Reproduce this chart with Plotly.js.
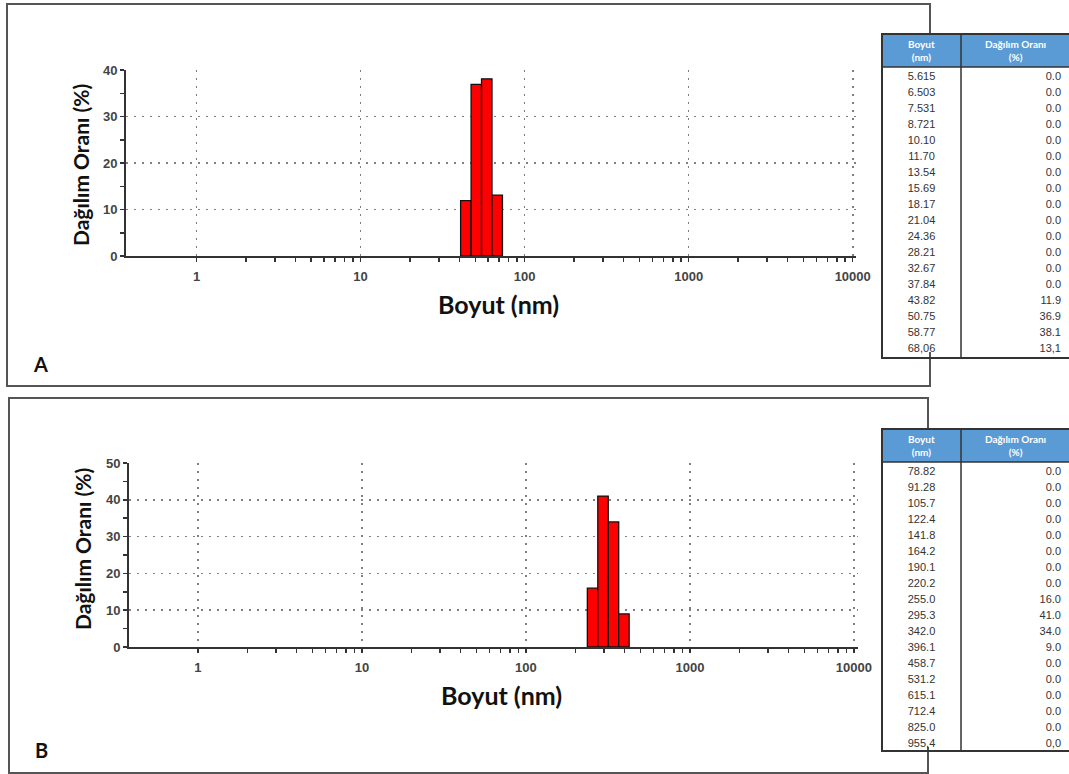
<!DOCTYPE html>
<html>
<head>
<meta charset="utf-8">
<script src="https://cdn.plot.ly/plotly-3.0.1.min.js"></script>
<style>html,body{margin:0;padding:0;background:#fff;}#chart{width:1069px;height:774px;}</style>
</head>
<body>
<div id="chart"></div>
<script>
// ---- data ----
const sizesA = [5.615, 6.503, 7.531, 8.721, 10.10, 11.70, 13.54, 15.69, 18.17, 21.04, 24.36, 28.21, 32.67, 37.84, 43.82, 50.75, 58.77, 68.06];
const valuesA = [0.0, 0.0, 0.0, 0.0, 0.0, 0.0, 0.0, 0.0, 0.0, 0.0, 0.0, 0.0, 0.0, 0.0, 11.9, 36.9, 38.1, 13.1];
const sizesB = [78.82, 91.28, 105.7, 122.4, 141.8, 164.2, 190.1, 220.2, 255.0, 295.3, 342.0, 396.1, 458.7, 531.2, 615.1, 712.4, 825.0, 955.4];
const valuesB = [0.0, 0.0, 0.0, 0.0, 0.0, 0.0, 0.0, 0.0, 16.0, 41.0, 34.0, 9.0, 0.0, 0.0, 0.0, 0.0, 0.0, 0.0];
const xTickVals = [1, 10, 100, 1000, 10000];
const xTickText = ['1', '10', '100', '1000', '10000'];
const tableHeaders = ['Boyut<br>(nm)', 'Dağılım Oranı<br>(%)'];
const xTitle = 'Boyut (nm)';
const yTitle = 'Dağılım Oranı (%)';
const panelLabels = ['A', 'B'];

// ---- helpers ----
const W = 1069, H = 774;
const px = x => x / W;
const py = y => 1 - y / H;

// bin edges: geometric midpoints between neighbouring sizes (log-spaced bins)
function binGeom(sizes) {
  const n = sizes.length;
  const lo = [], hi = [];
  for (let i = 0; i < n; i++) {
    const prev = i > 0 ? sizes[i - 1] : sizes[i] * sizes[i] / sizes[i + 1];
    const next = i < n - 1 ? sizes[i + 1] : sizes[i] * sizes[i] / sizes[i - 1];
    lo.push(Math.sqrt(prev * sizes[i]));
    hi.push(Math.sqrt(sizes[i] * next));
  }
  return {offset: sizes.map((s, i) => lo[i] - s), width: sizes.map((s, i) => hi[i] - lo[i])};
}
const fmtSize = v => v.toPrecision(4).replace('.', ',');
const fmtVal = v => v.toFixed(1).replace('.', ',');

const minorVals = [];
for (let d = 1; d <= 1000; d *= 10) for (let k = 2; k <= 9; k++) minorVals.push(k * d);

function barTrace(sizes, values, xa, ya) {
  const g = binGeom(sizes);
  return {type: 'bar', x: sizes, y: values, offset: g.offset, width: g.width, xaxis: xa, yaxis: ya,
    marker: {color: '#ff0000', line: {color: '#111', width: values.map(v => v > 0 ? 1.3 : 0)}}, hoverinfo: 'x+y'};
}
function tableTrace(sizes, values, yTop, yBot) {
  return {type: 'table', domain: {x: [px(882), 1], y: [py(yBot), py(yTop)]}, columnwidth: [79, 108],
    header: {values: [], height: 1, fill: {color: '#ffffff'}, line: {width: 0, color: '#ffffff'}},
    cells: {values: [sizes.map(fmtSize), values.map(fmtVal)], align: ['center', 'right'], height: 16,
      fill: {color: '#ffffff'}, font: {family: 'Liberation Sans, Arial, sans-serif', size: 11, color: '#333333'},
      line: {color: '#ffffff', width: 0}}};
}

const traces = [
  barTrace(sizesA, valuesA, 'x', 'y'),
  barTrace(sizesB, valuesB, 'x2', 'y2'),
  tableTrace(sizesA, valuesA, 48, 362),
  tableTrace(sizesB, valuesB, 443, 757)
];

const tickFont = {family: 'Liberation Sans, Arial, sans-serif', size: 13, color: '#444', weight: 'bold'};
const tickStyle = {ticklen: 4, tickwidth: 1.5, tickcolor: '#333'};
function xAxis(domain, range, anchor, inner, overlay) {
  const ax = Object.assign({type: 'log', domain: domain, range: range, anchor: anchor,
    tickvals: xTickVals, ticktext: xTickText, tickfont: tickFont, ticks: inner ? 'inside' : 'outside', ticklabelstandoff: 3,
    minor: Object.assign({tickvals: minorVals, ticks: inner ? 'inside' : 'outside', showgrid: false}, tickStyle),
    showline: !inner, linecolor: '#333', linewidth: 2,
    showgrid: !inner, gridcolor: '#808080', griddash: '2px,6px', gridwidth: 1.6,
    showticklabels: !inner, zeroline: false, fixedrange: true}, tickStyle);
  if (overlay) ax.overlaying = overlay;
  return ax;
}
function yAxis(domain, max, anchor, inner, overlay) {
  const ax = Object.assign({domain: domain, range: [0, max], anchor: anchor, dtick: 10, tickfont: tickFont,
    ticks: inner ? 'inside' : 'outside',
    minor: Object.assign({dtick: 5, ticks: inner ? 'inside' : 'outside', showgrid: false}, tickStyle),
    showline: !inner, linecolor: '#333', linewidth: 2,
    showgrid: !inner, gridcolor: '#808080', griddash: '2px,6px', gridwidth: 1.6,
    showticklabels: !inner, zeroline: false, fixedrange: true}, tickStyle);
  if (overlay) ax.overlaying = overlay;
  return ax;
}

const xTitleFont = {family: 'Lato, Open Sans, sans-serif', size: 25, color: '#111', weight: 'bold'};
const yTitleFont = {family: 'Lato, Open Sans, sans-serif', size: 21, color: '#111', weight: 'bold'};
const labelFont = {family: 'Lato, Open Sans, sans-serif', size: 20, color: '#111', weight: 'bold'};
const headFont = {family: 'Lato, Liberation Sans, sans-serif', size: 10, color: '#ffffff', weight: 'bold'};

const ann = (text, x, y, font, angle) => ({text: text, x: px(x), y: py(y), xref: 'paper', yref: 'paper', showarrow: false,
  font: font, textangle: angle || 0, xanchor: 'center', yanchor: 'middle'});
const annotations = [
  ann(xTitle, 498, 304, xTitleFont),
  ann(yTitle, 81, 165, yTitleFont, -90),
  ann(panelLabels[0], 40, 364, labelFont),
  ann(xTitle, 501, 695, xTitleFont),
  ann(yTitle, 82, 549, yTitleFont, -90),
  ann(panelLabels[1], 41, 750, labelFont),
  ann(tableHeaders[0], 921.5, 50.5, headFont),
  ann(tableHeaders[1], 1015, 50.5, headFont),
  ann(tableHeaders[0], 921.5, 445.5, headFont),
  ann(tableHeaders[1], 1015, 445.5, headFont)
];

const rect = (x0, y0, x1, y1, c, w, layer, fill) => ({type: 'rect', xref: 'paper', yref: 'paper', x0: px(x0), x1: px(x1), y0: py(y0), y1: py(y1),
  line: {color: c, width: w}, fillcolor: fill || 'rgba(0,0,0,0)', layer: layer});
const vline = (x, y0, y1, c, w) => ({type: 'line', xref: 'paper', yref: 'paper', x0: px(x), x1: px(x), y0: py(y0), y1: py(y1), line: {color: c, width: w}});
const hline = (x0, x1, y, c, w) => ({type: 'line', xref: 'paper', yref: 'paper', x0: px(x0), x1: px(x1), y0: py(y), y1: py(y), line: {color: c, width: w}});

const shapes = [
  rect(7, 4, 930, 386, '#555', 2, 'below'),
  rect(9, 398, 928, 773, '#555', 2, 'below'),
  rect(882, 34, 1070, 67, '#333', 0, 'above', '#5b9bd5'),
  rect(882, 429, 1070, 462, '#333', 0, 'above', '#5b9bd5'),
  rect(882, 34, 1070, 358, '#333', 2, 'above'),
  vline(961, 34, 358, '#333', 1.5),
  hline(882, 1070, 67, '#333', 1.5),
  rect(882, 429, 1070, 751, '#333', 2, 'above'),
  vline(961, 429, 751, '#333', 1.5),
  hline(882, 1070, 462, '#333', 1.5)
];

const layout = {
  width: W, height: H, margin: {l: 0, r: 0, t: 0, b: 0},
  paper_bgcolor: '#ffffff', plot_bgcolor: 'rgba(0,0,0,0)', showlegend: false, bargap: 0,
  xaxis: xAxis([px(126), px(856)], [-0.43, 4.02], 'y', false),
  yaxis: yAxis([py(256), py(70)], 40, 'x', false),
  xaxis2: xAxis([px(129), px(858)], [-0.42, 4.025], 'y2', false),
  yaxis2: yAxis([py(647), py(463)], 50, 'x2', false),
  xaxis3: xAxis([px(126), px(856)], [-0.43, 4.02], 'y', true, 'x'),
  yaxis3: yAxis([py(256), py(70)], 40, 'x', true, 'y'),
  xaxis4: xAxis([px(129), px(858)], [-0.42, 4.025], 'y2', true, 'x2'),
  yaxis4: yAxis([py(647), py(463)], 50, 'x2', true, 'y2'),
  annotations: annotations, shapes: shapes
};

Plotly.newPlot('chart', traces, layout, {displayModeBar: false, staticPlot: true});
</script>
</body>
</html>
